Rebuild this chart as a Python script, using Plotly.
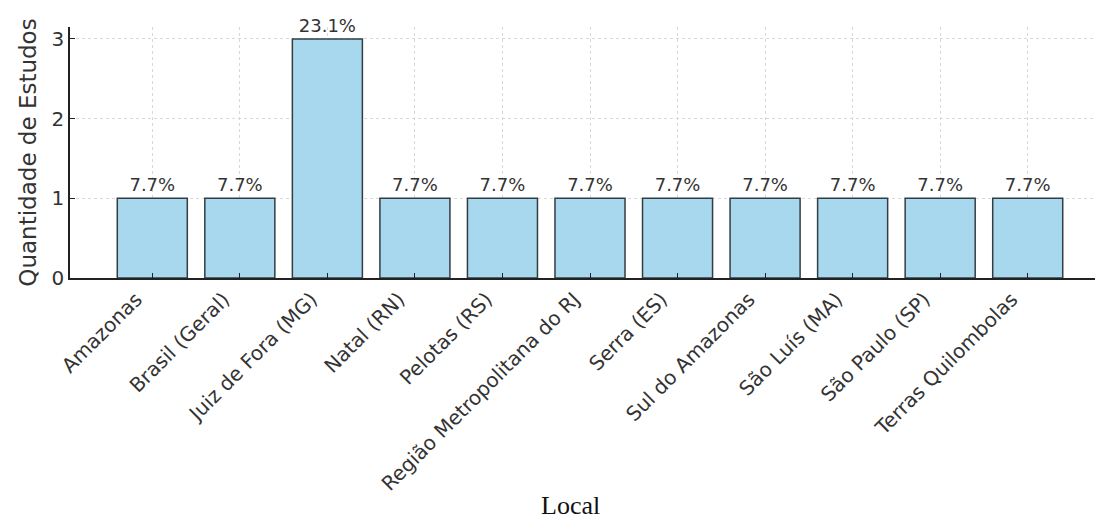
import plotly.graph_objects as go

categories = ["Amazonas", "Brasil (Geral)", "Juiz de Fora (MG)", "Natal (RN)", "Pelotas (RS)",
              "Região Metropolitana do RJ", "Serra (ES)", "Sul do Amazonas", "São Luís (MA)",
              "São Paulo (SP)", "Terras Quilombolas"]
counts = [1, 1, 3, 1, 1, 1, 1, 1, 1, 1, 1]
labels = ["7.7%", "7.7%", "23.1%", "7.7%", "7.7%", "7.7%", "7.7%", "7.7%", "7.7%", "7.7%", "7.7%"]
y_ticks = [0, 1, 2, 3]

W, H = 1103, 527
OFF = 8  # page offset of the plot div
L, R, T, B = 70 - OFF, OFF, 27 - OFF, H - 278 + OFF

fig = go.Figure(go.Bar(
    x=categories, y=counts, text=labels, textposition="outside",
    textfont=dict(family="DejaVu Sans", size=18, color="#333333"),
    marker=dict(color="#a8d8ee", line=dict(color="#333d44", width=1.5)),
    width=0.8, cliponaxis=False,
))

fig.update_layout(
    width=W, height=H, margin=dict(l=L, r=R, t=T, b=B, autoexpand=False),
    plot_bgcolor="white", paper_bgcolor="white", showlegend=False,
    font=dict(family="DejaVu Sans", color="#222222"),
    xaxis=dict(range=[-0.94, 10.86], tickangle=-45, tickfont=dict(size=20, color="#333333"),
               showgrid=True, gridcolor="#d8d8d8", griddash="dot", gridwidth=1,
               showline=True, linecolor="#222222", linewidth=1.5,
               ticks="inside", ticklen=5, tickcolor="#222222", automargin=False,
               ticklabelshift=-16),
    yaxis=dict(range=[0, 3.15], tickvals=y_ticks, tickfont=dict(size=20, color="#333333"),
               showgrid=True, gridcolor="#d8d8d8", griddash="dot", gridwidth=1,
               showline=True, linecolor="#222222", linewidth=1.5, zeroline=False,
               ticks="inside", ticklen=5, tickcolor="#222222", automargin=False,
               title=dict(text="Quantidade de Estudos", font=dict(size=23, color="#333333"), standoff=8)),
    annotations=[dict(text="Local", xref="paper", yref="paper", x=(570 - 70) / (1103 - 70),
                      y=(278 - 505) / (278 - 27), xanchor="center", yanchor="middle", showarrow=False,
                      font=dict(family="Liberation Serif", size=26, color="#111111"))],
)

fig.write_html("out.html")
